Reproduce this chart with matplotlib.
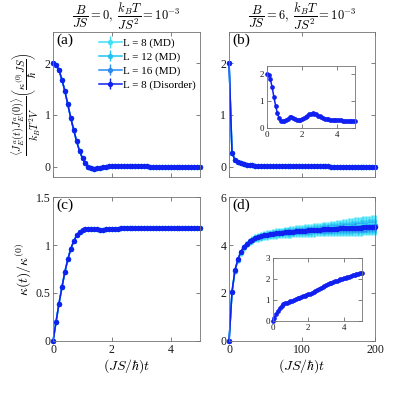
import numpy as np
import matplotlib
matplotlib.use("Agg")
from matplotlib import pyplot as plt
from matplotlib.ticker import FuncFormatter

plt.rcParams["font.family"] = ["Liberation Serif", "DejaVu Serif"]
plt.rcParams["mathtext.fontset"] = "cm"

# time grids (short window 0..5 step 0.1, long window 0..200 step 4)
t_short = np.round(np.arange(51) * 0.1, 1)
t_long = np.arange(51) * 4

# (a) current correlation, B = 0
corr_b0 = [2.00, 1.97, 1.86, 1.68, 1.46, 1.20, 0.94, 0.71, 0.49, 0.30,
           0.16, 0.06, 0.00, -0.03, -0.04, -0.035, -0.025, -0.01, 0.00, 0.01,
           0.015, 0.02, 0.02, 0.02, 0.02, 0.02, 0.018, 0.015, 0.012, 0.01,
           0.008, 0.006, 0.004, 0.002, 0.00, 0.00, -0.002, -0.002, -0.003, -0.003,
           -0.003, -0.002, -0.002, -0.001, 0.00, 0.00, 0.00, 0.00, 0.00, 0.00, 0.00]

# (b) current correlation, B = 6, long window
corr_b6 = [2.00, 0.27, 0.13, 0.08, 0.06, 0.045, 0.035, 0.03, 0.025, 0.02,
           0.018, 0.016, 0.014, 0.012, 0.011, 0.01, 0.009, 0.008, 0.008, 0.007,
           0.007, 0.006, 0.006, 0.005, 0.005, 0.005, 0.004, 0.004, 0.004, 0.004,
           0.003, 0.003, 0.003, 0.003, 0.003, 0.002, 0.002, 0.002, 0.002, 0.002,
           0.002, 0.002, 0.001, 0.001, 0.001, 0.001, 0.001, 0.001, 0.001, 0.001, 0.001]

# (b) inset, short window
corr_b6_short = [2.00, 1.95, 1.80, 1.52, 1.15, 0.82, 0.55, 0.36, 0.27, 0.25,
                 0.26, 0.30, 0.35, 0.39, 0.40, 0.38, 0.34, 0.30, 0.28, 0.29,
                 0.32, 0.36, 0.41, 0.46, 0.50, 0.53, 0.54, 0.53, 0.50, 0.46,
                 0.43, 0.40, 0.37, 0.35, 0.33, 0.32, 0.31, 0.30, 0.29, 0.29,
                 0.28, 0.28, 0.28, 0.27, 0.27, 0.27, 0.27, 0.27, 0.26, 0.26, 0.26]

# (c) kappa(t), B = 0
kappa_b0 = [0.00, 0.20, 0.39, 0.56, 0.72, 0.85, 0.96, 1.04, 1.10, 1.14,
            1.16, 1.17, 1.17, 1.168, 1.165, 1.163, 1.162, 1.162, 1.163, 1.165,
            1.167, 1.170, 1.172, 1.174, 1.176, 1.178, 1.179, 1.180, 1.180, 1.180,
            1.180, 1.180, 1.179, 1.179, 1.178, 1.178, 1.177, 1.177, 1.176, 1.176,
            1.175, 1.175, 1.175, 1.174, 1.174, 1.174, 1.174, 1.173, 1.173, 1.173, 1.173]

# (d) kappa(t), B = 6, long window
kappa_b6_dis = [0.00, 2.05, 2.95, 3.40, 3.72, 3.93, 4.06, 4.15, 4.23, 4.29,
                4.33, 4.37, 4.40, 4.43, 4.45, 4.47, 4.49, 4.50, 4.52, 4.53,
                4.54, 4.55, 4.56, 4.57, 4.58, 4.59, 4.60, 4.61, 4.62, 4.63,
                4.63, 4.64, 4.65, 4.66, 4.66, 4.67, 4.68, 4.68, 4.69, 4.70,
                4.70, 4.71, 4.72, 4.72, 4.73, 4.73, 4.74, 4.75, 4.75, 4.76, 4.76]
kappa_b6_md8 = [0.00, 2.02, 2.90, 3.36, 3.68, 3.90, 4.04, 4.14, 4.22, 4.28,
                4.32, 4.36, 4.39, 4.42, 4.44, 4.46, 4.48, 4.50, 4.51, 4.53,
                4.54, 4.55, 4.56, 4.57, 4.58, 4.59, 4.60, 4.61, 4.62, 4.63,
                4.64, 4.65, 4.66, 4.67, 4.68, 4.69, 4.70, 4.71, 4.72, 4.73,
                4.74, 4.75, 4.76, 4.77, 4.78, 4.79, 4.80, 4.81, 4.82, 4.83, 4.84]
kappa_b6_md12 = [0.00, 2.03, 2.92, 3.37, 3.70, 3.91, 4.05, 4.14, 4.22, 4.28,
                 4.33, 4.36, 4.40, 4.42, 4.45, 4.47, 4.48, 4.50, 4.52, 4.53,
                 4.54, 4.55, 4.56, 4.57, 4.58, 4.59, 4.60, 4.61, 4.62, 4.63,
                 4.64, 4.65, 4.65, 4.66, 4.67, 4.68, 4.69, 4.70, 4.71, 4.71,
                 4.72, 4.73, 4.74, 4.75, 4.75, 4.76, 4.77, 4.78, 4.78, 4.79, 4.80]
kappa_b6_md16 = [0.00, 2.04, 2.93, 3.39, 3.71, 3.92, 4.05, 4.15, 4.23, 4.29,
                 4.33, 4.37, 4.40, 4.43, 4.45, 4.47, 4.49, 4.50, 4.52, 4.53,
                 4.54, 4.55, 4.56, 4.57, 4.58, 4.59, 4.60, 4.61, 4.62, 4.63,
                 4.64, 4.64, 4.65, 4.66, 4.67, 4.67, 4.68, 4.69, 4.69, 4.70,
                 4.71, 4.71, 4.72, 4.73, 4.73, 4.74, 4.75, 4.75, 4.76, 4.77, 4.78]
err_md8 = [0.00, 0.05, 0.08, 0.10, 0.12, 0.13, 0.14, 0.15, 0.16, 0.17,
           0.18, 0.19, 0.19, 0.20, 0.20, 0.21, 0.21, 0.22, 0.22, 0.23,
           0.23, 0.24, 0.24, 0.25, 0.25, 0.26, 0.26, 0.27, 0.27, 0.28,
           0.28, 0.29, 0.29, 0.30, 0.30, 0.31, 0.31, 0.32, 0.33, 0.34,
           0.35, 0.36, 0.37, 0.38, 0.39, 0.40, 0.40, 0.41, 0.41, 0.42, 0.42]
err_md12 = [0.00, 0.04, 0.06, 0.07, 0.08, 0.09, 0.10, 0.11, 0.11, 0.12,
            0.12, 0.13, 0.13, 0.14, 0.14, 0.15, 0.15, 0.15, 0.16, 0.16,
            0.16, 0.17, 0.17, 0.17, 0.18, 0.18, 0.18, 0.19, 0.19, 0.19,
            0.20, 0.20, 0.21, 0.21, 0.22, 0.22, 0.23, 0.23, 0.24, 0.24,
            0.25, 0.25, 0.26, 0.26, 0.27, 0.27, 0.28, 0.28, 0.29, 0.29, 0.30]
err_md16 = [0.00, 0.02, 0.03, 0.04, 0.05, 0.06, 0.06, 0.07, 0.07, 0.08,
            0.08, 0.08, 0.09, 0.09, 0.09, 0.10, 0.10, 0.10, 0.10, 0.11,
            0.11, 0.11, 0.11, 0.12, 0.12, 0.12, 0.12, 0.13, 0.13, 0.13,
            0.13, 0.14, 0.14, 0.14, 0.15, 0.15, 0.15, 0.16, 0.16, 0.16,
            0.17, 0.17, 0.17, 0.18, 0.18, 0.18, 0.19, 0.19, 0.19, 0.20, 0.20]

# (d) inset, short window
kappa_b6_short = [0.00, 0.15, 0.32, 0.48, 0.61, 0.71, 0.78, 0.83, 0.86, 0.89,
                  0.92, 0.95, 0.99, 1.03, 1.07, 1.11, 1.14, 1.17, 1.20, 1.23,
                  1.26, 1.29, 1.33, 1.37, 1.42, 1.47, 1.52, 1.57, 1.62, 1.67,
                  1.71, 1.75, 1.79, 1.82, 1.85, 1.88, 1.91, 1.94, 1.97, 2.00,
                  2.03, 2.06, 2.08, 2.11, 2.14, 2.17, 2.19, 2.22, 2.25, 2.27, 2.30]

MD_ERR = 0.012
labels = ["L = 8 (MD)", "L = 12 (MD)", "L = 16 (MD)", "L = 8 (Disorder)"]
colors = ["#3fe0f6", "#22c3f2", "#2a8af2", "#1020f0"]


def draw(ax, t, y, err, color, label=None, ms=3.8, lw=1.1, elw=1.0):
    c = ax.errorbar(t, y, yerr=err, color=color, lw=lw, marker="o", ms=ms,
                    mew=0, elinewidth=elw, capsize=1.5, capthick=elw, label=label)
    for a in c.get_children():
        a.set_clip_on(False)
    return c


def style(ax, xlim, ylim, xticks, yticks, fs=8.5, show_x=True):
    ax.set_xlim(xlim)
    ax.set_ylim(ylim)
    ax.set_xticks(xticks)
    ax.set_yticks(yticks)
    ax.tick_params(direction="in", top=True, right=True, length=3, width=0.5,
                   labelsize=fs, color="0.3", labelcolor="0.1", pad=2,
                   labelbottom=show_x)
    for s in ax.spines.values():
        s.set_linewidth(0.6)
        s.set_color("0.45")
    fmt = FuncFormatter(lambda v, p: f"{v:g}")
    ax.xaxis.set_major_formatter(fmt)
    ax.yaxis.set_major_formatter(fmt)


fig = plt.figure(figsize=(4.15, 3.95), dpi=100)
ax_a = fig.add_axes([0.128, 0.552, 0.354, 0.367])
ax_b = fig.add_axes([0.552, 0.552, 0.352, 0.367])
ax_c = fig.add_axes([0.128, 0.137, 0.354, 0.364])
ax_d = fig.add_axes([0.552, 0.137, 0.352, 0.364])

# (a)
handles = []
for col, lab in zip(colors[:3], labels[:3]):
    handles.append(draw(ax_a, t_short, corr_b0, MD_ERR, col, lab))
handles.append(draw(ax_a, t_short, corr_b0, MD_ERR, colors[3], labels[3]))
style(ax_a, (0, 5), (-0.2, 2.6), [0, 2, 4], [0, 1, 2], show_x=False)
ax_a.legend(handles=handles, loc="upper right", bbox_to_anchor=(1.01, 1.0),
            frameon=False, fontsize=8, handlelength=2.0, labelspacing=0.35,
            handletextpad=0.1, borderaxespad=0.15)
ax_a.set_title(r"$\dfrac{B}{JS}=0,\ \dfrac{k_BT}{JS^2}=10^{-3}$", fontsize=9, pad=3)
ax_a.set_ylabel(r"$\dfrac{\langle J_E^a(t)J_E^a(0)\rangle}{k_BT^2V}\left(\dfrac{\kappa^{(0)}JS}{\hbar}\right)$",
                fontsize=7.5, labelpad=1)

# (b)
for col in colors[:3]:
    draw(ax_b, t_long, corr_b6, MD_ERR, col)
draw(ax_b, t_long, corr_b6, MD_ERR, colors[3])
style(ax_b, (0, 200), (-0.2, 2.6), [0, 100, 200], [0, 1, 2], show_x=False)
ax_b.set_title(r"$\dfrac{B}{JS}=6,\ \dfrac{k_BT}{JS^2}=10^{-3}$", fontsize=9, pad=3)

ins_b = fig.add_axes([0.643, 0.676, 0.212, 0.157])
draw(ins_b, t_short, corr_b6_short, None, colors[3], ms=3.4)
style(ins_b, (0, 5), (0, 2.3), [0, 2, 4], [0, 1, 2], fs=6.5)

# (c)
for col in colors[:3]:
    draw(ax_c, t_short, kappa_b0, MD_ERR, col)
draw(ax_c, t_short, kappa_b0, MD_ERR, colors[3])
style(ax_c, (0, 5), (0, 1.5), [0, 2, 4], [0, 0.5, 1, 1.5])
ax_c.set_ylabel(r"$\kappa(t)/\kappa^{(0)}$", fontsize=10, labelpad=2)
ax_c.set_xlabel(r"$(JS/\hbar)t$", fontsize=10, labelpad=1)

# (d)
draw(ax_d, t_long, kappa_b6_md8, err_md8, colors[0], elw=1.8)
draw(ax_d, t_long, kappa_b6_md12, err_md12, colors[1], elw=1.8)
draw(ax_d, t_long, kappa_b6_md16, err_md16, colors[2], elw=1.8)
draw(ax_d, t_long, kappa_b6_dis, None, colors[3])
style(ax_d, (0, 200), (0, 6), [0, 100, 200], [0, 2, 4, 6])
ax_d.set_xlabel(r"$(JS/\hbar)t$", fontsize=10, labelpad=1)

ins_d = fig.add_axes([0.657, 0.188, 0.2145, 0.159])
draw(ins_d, t_short, kappa_b6_short, None, colors[3], ms=3.4)
style(ins_d, (0, 5), (0, 3), [0, 2, 4], [0, 1, 2, 3], fs=6.5)

for ax, lab in zip([ax_a, ax_b, ax_c, ax_d], ["(a)", "(b)", "(c)", "(d)"]):
    ax.text(0.02, 0.99, lab, transform=ax.transAxes, va="top", ha="left", fontsize=11)

fig.savefig("out.png", dpi=100)
